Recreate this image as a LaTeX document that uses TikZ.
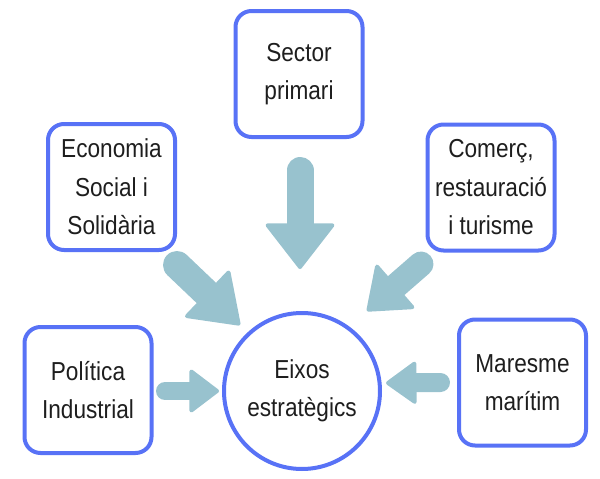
\documentclass[tikz,border=0pt]{standalone}
\usepackage{fontspec}
\setmainfont{Liberation Sans}[FakeStretch=0.87]
\usepackage{tikz}
\usepackage{color}
\usetikzlibrary{arrows.meta}

\definecolor{boxblue}{HTML}{5872F6}
\definecolor{flowblue}{HTML}{98C2CE}
\definecolor{textgray}{HTML}{1E1E1E}

\tikzset{
  box/.style={draw=boxblue, line width=4pt, rounded corners=16pt, fill=white,
    minimum width=127pt, minimum height=126pt, outer sep=0pt, inner sep=0pt,
    align=center, text=textgray, font=\fontsize{26}{38.5}\selectfont},
  hub/.style={box, circle, rounded corners=0pt, minimum size=156pt},
  flow/.style n args={3}{draw=flowblue, line width=#1pt, line cap=round,
    -{Triangle[length=#2pt, width=#3pt, line width=4pt, round]}}
}

\begin{document}
\begin{tikzpicture}[x=1pt, y=-1pt]
\useasboundingbox (0,0) rectangle (600,479);

% Drawing boxes
\node[box] (sector) at (299,74) {Sector\\primari};
\node[box] (econ) at (111.5,187) {Economia\\Social i\\Solidària};
\node[box] (comerc) at (491,187.5) {Comerç,\\restauració\\i turisme};
\node[box] (politica) at (88,390) {Política\\Industrial};
\node[box] (maresme) at (522.5,382.5) {Maresme\\marítim};

% Drawing centre
\node[hub] (eixos) at (302,391) {Eixos\\estratègics};

% Drawing arrows
\draw[flow={27}{47}{72}] ([shift={(1,96.5)}]sector.center) -- ([shift={(-2,-122)}]eixos.center);
\draw[flow={28}{48}{67}] ([shift={(65.5,78)}]econ.center) -- ([shift={(-62,-66)}]eixos.center);
\draw[flow={25}{40}{61}] ([shift={(-70,76.5)}]comerc.center) -- ([shift={(65,-80)}]eixos.center);
\draw[flow={18}{31}{46}] ([shift={(77,1)}]politica.center) -- ([shift={(-83,0)}]eixos.center);
\draw[flow={19}{32}{45}] ([shift={(-82,0)}]maresme.center) -- ([shift={(84,-8)}]eixos.center);
\end{tikzpicture}
\end{document}
